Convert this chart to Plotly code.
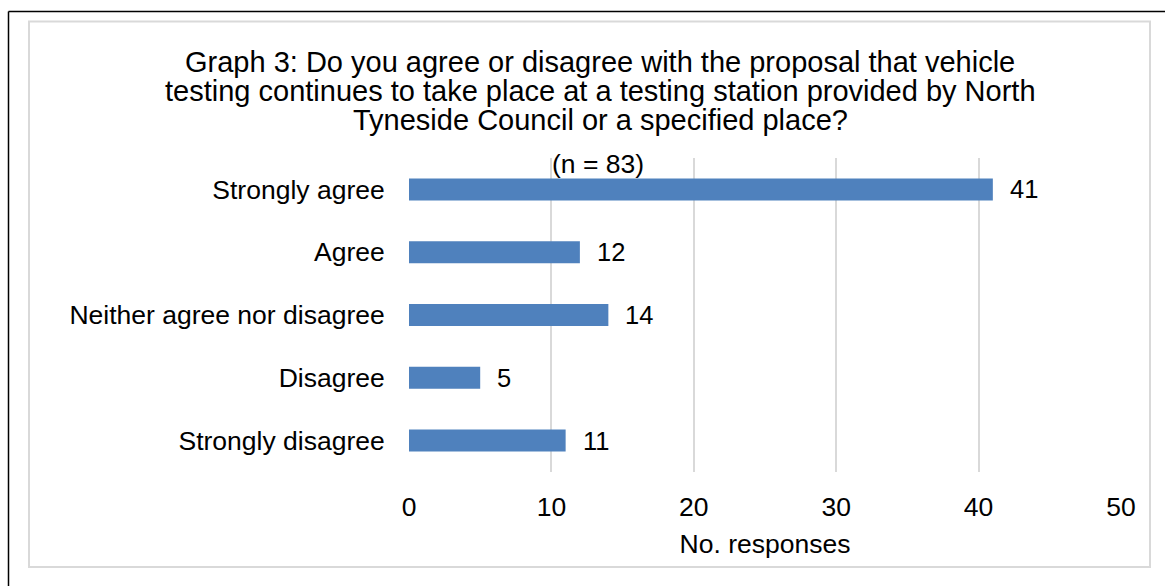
import plotly.graph_objects as go

categories = ["Strongly agree", "Agree", "Neither agree nor disagree", "Disagree", "Strongly disagree"]
values = [41, 12, 14, 5, 11]
x_ticks = [0, 10, 20, 30, 40, 50]
title_lines = [
    "Graph 3: Do you agree or disagree with the proposal that vehicle",
    "testing continues to take place at a testing station provided by North",
    "Tyneside Council or a specified place?",
]
subtitle = "(n = 83)"
x_title = "No. responses"

W, H = 1165, 586
L, R, T, B = 409, 44, 158, 114
PW, PH = W - L - R, H - T - B

def px(xp):
    return (xp - L) / PW

def py(yp):
    return (H - B - yp) / PH

FONT = "Liberation Sans, Arial, sans-serif"
TICK = 26.5

fig = go.Figure(go.Bar(
    y=categories, x=values, orientation="h",
    marker=dict(color="#4F81BD", line=dict(width=0)),
    hoverinfo="skip",
))

annotations = []
for cat, v in zip(categories, values):
    annotations.append(dict(x=v, y=cat, xref="x", yref="y", text=str(v), showarrow=False,
                            xanchor="left", yanchor="middle", xshift=15,
                            font=dict(size=25.5, color="#000000", family=FONT)))
for i, (line, yc) in enumerate(zip(title_lines, [62, 91, 120])):
    annotations.append(dict(x=px(600), y=py(yc), xref="paper", yref="paper", text=line,
                            showarrow=False, xanchor="center", yanchor="middle",
                            font=dict(size=29, color="#000000", family=FONT)))
annotations.append(dict(x=px(598), y=py(164), xref="paper", yref="paper", text=subtitle,
                        showarrow=False, xanchor="center", yanchor="middle",
                        font=dict(size=TICK, color="#000000", family=FONT)))

shapes = [
    dict(type="rect", xref="paper", yref="paper", x0=px(29), x1=px(1150), y0=py(567), y1=py(21.5),
         line=dict(color="#D9D9D9", width=2), fillcolor="rgba(0,0,0,0)", layer="below"),
    dict(type="line", xref="paper", yref="paper", x0=px(8.5), x1=px(1200), y0=py(11.5), y1=py(11.5),
         line=dict(color="#000000", width=1.5)),
    dict(type="line", xref="paper", yref="paper", x0=px(8.5), x1=px(8.5), y0=py(11.5), y1=py(620),
         line=dict(color="#000000", width=1.5)),
]

fig.update_layout(
    width=W, height=H,
    margin=dict(l=L, r=R, t=T, b=B, pad=0),
    paper_bgcolor="white", plot_bgcolor="white",
    bargap=0.65,
    showlegend=False,
    font=dict(family=FONT, color="#000000", size=TICK),
    annotations=annotations,
    shapes=shapes,
    xaxis=dict(range=[0, 50], tickvals=x_ticks, ticktext=[str(t) for t in x_ticks],
               showgrid=True, gridcolor="#D9D9D9", gridwidth=2, zeroline=False,
               showline=False, ticks="outside", ticklen=11, tickcolor="rgba(0,0,0,0)",
               tickfont=dict(size=TICK, family=FONT, color="#000000"),
               title=dict(text=x_title, font=dict(size=TICK, family=FONT, color="#000000"), standoff=13),
               fixedrange=True),
    yaxis=dict(categoryorder="array", categoryarray=categories, autorange="reversed",
               showgrid=False, zeroline=False, showline=False,
               ticks="outside", ticklen=18, tickcolor="rgba(0,0,0,0)",
               tickfont=dict(size=TICK, family=FONT, color="#000000"),
               fixedrange=True),
)

fig.write_html("out.html", config={"displayModeBar": False})
